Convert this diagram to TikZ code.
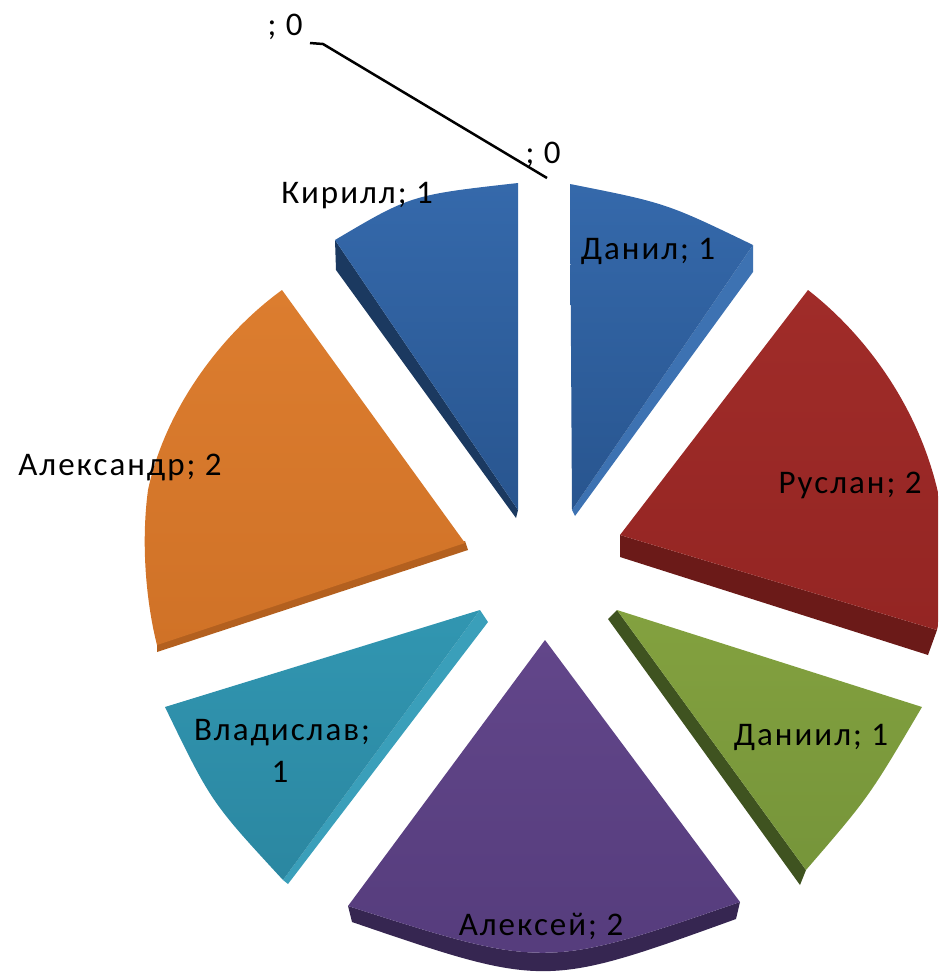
\documentclass[tikz,border=0pt]{standalone}
\usepackage{fontspec}
\setmainfont{Carlito}[LetterSpace=6]
\definecolor{bluetop}{HTML}{3569AB}
\definecolor{bluebot}{HTML}{28558F}
\definecolor{blueside}{HTML}{1B3960}
\definecolor{bluelight}{HTML}{3D72B2}
\definecolor{redtop}{HTML}{A02C29}
\definecolor{redbot}{HTML}{942523}
\definecolor{redside}{HTML}{6B1A18}
\definecolor{greentop}{HTML}{83A13F}
\definecolor{greenbot}{HTML}{76953A}
\definecolor{greenside}{HTML}{3F5320}
\definecolor{purptop}{HTML}{62468A}
\definecolor{purpbot}{HTML}{553C7C}
\definecolor{purpside}{HTML}{362651}
\definecolor{tealtop}{HTML}{3196B1}
\definecolor{tealbot}{HTML}{2B87A1}
\definecolor{tealside}{HTML}{3A9FBA}
\definecolor{orgtop}{HTML}{DC7D2F}
\definecolor{orgbot}{HTML}{D07227}
\definecolor{orgside}{HTML}{B3601F}
\begin{document}
\begin{tikzpicture}[x=1pt,y=-1pt,
  lbl/.style={inner sep=0pt, anchor=base, font=\fontsize{33}{42}\selectfont, text=black},
  leader/.style={draw=black, line width=2.5pt}]
\useasboundingbox (0,0) rectangle (938,978);
\clip (0,0) rectangle (938,978);
% ---- Kirill (blue)
\fill[blueside] (335,240) -- (518,510) -- (516,518) -- (336,270) -- cycle;
\shade[top color=bluetop, bottom color=bluebot] (518,510) -- (518,183) .. controls (411,195) .. (335,240) -- cycle;
% ---- Danil (blue)
\fill[bluelight] (753,245) -- (753,272) -- (575,516) -- (572,510) -- cycle;
\shade[top color=bluetop, bottom color=bluebot] (572,510) -- (570,184) .. controls (666,203) .. (753,245) -- cycle;
% ---- Ruslan (red)
\fill[redside] (620,535) -- (937,630) -- (928,655) -- (620,557) -- cycle;
\shade[top color=redtop, bottom color=redbot] (620,535) -- (808,290) .. controls (885,350) and (945,450) .. (946,560) .. controls (946,590) and (941,612) .. (937,630) -- cycle;
% ---- Daniil (green)
\fill[greenside] (617,610) -- (806,870) -- (800,885) -- (608,619) -- cycle;
\shade[top color=greentop, bottom color=greenbot] (617,610) -- (922,707) .. controls (869,797) .. (806,870) -- cycle;
% ---- Aleksei (purple)
\fill[purpside] (740,902) .. controls (545,969) .. (348,906) -- (352,922) .. controls (545,988) .. (736,919) -- cycle;
\shade[top color=purptop, bottom color=purpbot] (545,640) -- (740,902) .. controls (545,969) .. (348,906) -- cycle;
% ---- Vladislav (teal)
\fill[tealside] (480,610) -- (488,622) -- (288,884) -- (283,880) -- cycle;
\shade[top color=tealtop, bottom color=tealbot] (480,610) -- (165,707) .. controls (211,802) .. (283,880) -- cycle;
% ---- Aleksandr (orange)
\fill[orgside] (157,640) -- (465,541) -- (468,550) -- (157,652) -- cycle;
\shade[top color=orgtop, bottom color=orgbot] (465,543) -- (282,290) .. controls (220,335) and (165,410) .. (148,490) .. controls (140,550) and (148,610) .. (157,645) -- cycle;
% ---- labels
\node[lbl] (kir) at (357,203) {Кирилл; 1};
\node[lbl] (dan) at (648,259) {Данил; 1};
\node[lbl] (rus) at (850,493) {Руслан; 2};
\node[lbl] (dnl) at (811,745) {Даниил; 1};
\node[lbl] (alx) at (541,935) {Алексей; 2};
\node[lbl] (vla) at (282,740) {Владислав;};
\node[lbl] (vlb) at (280,782) {1};
\node[lbl] (aln) at (120,475) {Александр; 2};
\node[lbl] (zA) at (285,35) {; 0};
\node[lbl] (zB) at (543,163) {; 0};
% ---- leader line
\coordinate (la) at (310,43);
\coordinate (lb) at (323,44);
\coordinate (lc) at (547,178);
\draw[leader] (la) -- (lb) -- (lc);
\end{tikzpicture}
\end{document}
